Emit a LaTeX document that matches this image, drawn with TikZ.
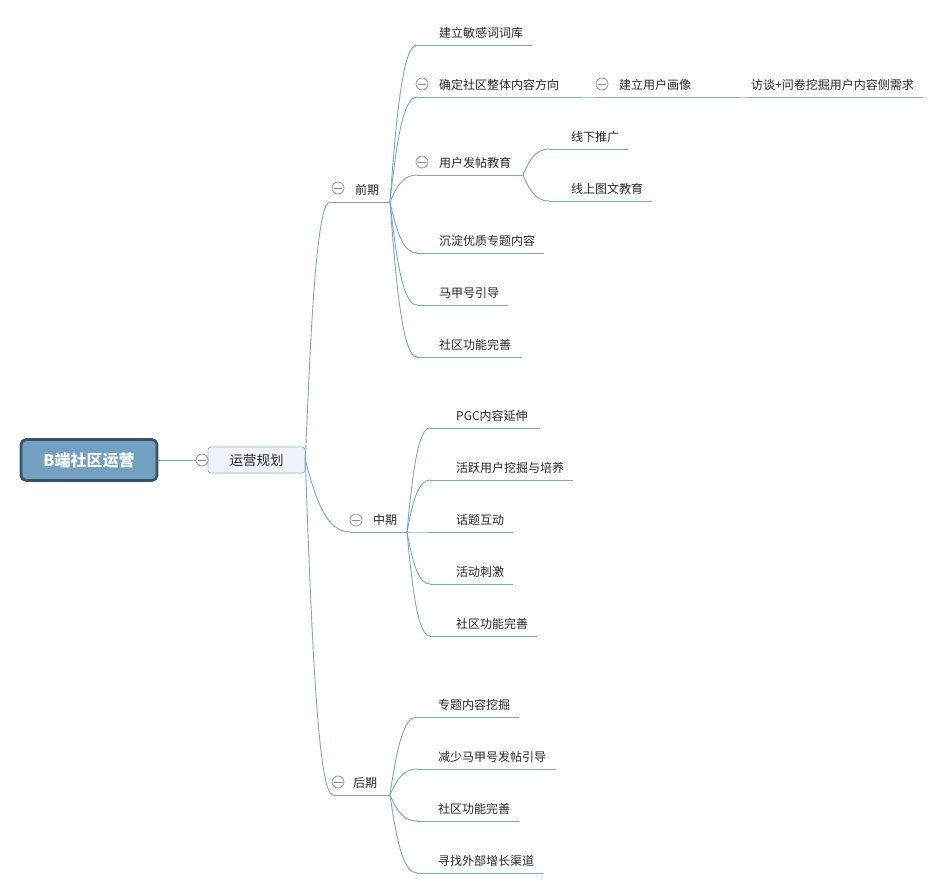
\documentclass[tikz,border=0pt]{standalone}
\usepackage{fontspec}
\newfontfamily\cjk{Noto Sans CJK SC}
\usetikzlibrary{calc}
\definecolor{lineblue}{HTML}{7BA7C9}
\definecolor{rootfill}{HTML}{71A0C1}
\definecolor{rootborder}{HTML}{3B5366}
\definecolor{subfill}{HTML}{EEF4F9}
\definecolor{subborder}{HTML}{8DB3D1}
\definecolor{btngray}{HTML}{8C8C8C}
\newcommand\mmtopic[6]{%
  \coordinate (#1-s) at (#2,#3);
  \coordinate (#1-e) at (#4,#3);
  \node[lbl] (#1) at (#5,#3-7.5) {#6};
  \draw[br] (#1-s) -- (#1-e);}
\newcommand\mmconn[2]{%
  \draw[br] let \p1=(#1), \p2=(#2) in (\p1) .. controls ({\x1+0.25*(\x2-\x1)},{\y1+0.6*(\y2-\y1)}) and ({\x1+0.5*(\x2-\x1)},{\y2}) .. (\p2);}
\begin{document}
\begin{tikzpicture}[x=1pt,y=-1pt,
  br/.style={draw=lineblue, line width=0.9pt},
  lbl/.style={anchor=base west, inner sep=0pt, font=\cjk\fontsize{12}{12}\selectfont, text=black!85},
  btn/.style={circle, draw=btngray, fill=white, minimum size=12pt, inner sep=0pt, line width=0.7pt,
    path picture={\draw[btngray, line width=0.7pt] ([xshift=-3.6pt]path picture bounding box.center) -- ([xshift=3.6pt]path picture bounding box.center);}},
  rootbox/.style={draw=rootborder, fill=rootfill, line width=2.6pt, rounded corners=5pt, minimum width=136pt, minimum height=41pt, text=white, font=\cjk\bfseries\fontsize{16}{16}\selectfont},
  subbox/.style={draw=subborder, fill=subfill, line width=0.7pt, rounded corners=3pt, minimum width=97pt, minimum height=26pt, text=black!85, font=\cjk\fontsize{13.5}{13.5}\selectfont}]
\useasboundingbox[fill=white] (0,0) rectangle (944,894);

% root and main
\node[rootbox] (root) at (89,460) {B端社区运营};
\node[subbox] (plan) at (256.5,460) {运营规划};
\node[btn] (planbtn) at (202,460) {};
\draw[br] (root.east) -- (planbtn.west);

% level 1
\mmtopic{p1}{330}{202}{390}{355}{前期}
\mmtopic{p2}{350}{532}{407}{373}{中期}
\mmtopic{p3}{333}{795}{390}{353}{后期}
\mmconn{plan.east}{p1-s}
\mmconn{plan.east}{p2-s}
\mmconn{plan.east}{p3-s}
\node[btn] (p1btn) at (338,188) {};
\node[btn] (p2btn) at (356,520) {};
\node[btn] (p3btn) at (338,782) {};

% 前期 children
\mmtopic{a1}{417}{45}{532}{439}{建立敏感词词库}
\mmtopic{a2}{417}{97}{580}{439}{确定社区整体内容方向}
\mmtopic{a3}{417}{175}{523}{439}{用户发帖教育}
\mmtopic{a4}{417}{253}{544}{439}{沉淀优质专题内容}
\mmtopic{a5}{417}{305}{508}{439}{马甲号引导}
\mmtopic{a6}{417}{357}{522}{439}{社区功能完善}
\foreach \t in {a1,a2,a3,a4,a5,a6}{\mmconn{p1-e}{\t-s}}
\node[btn] (a2btn) at (422,84) {};
\node[btn] (a3btn) at (422,162) {};

% 确定社区整体内容方向 chain
\mmtopic{b1}{597}{97}{738}{619}{建立用户画像}
\mmconn{a2-e}{b1-s}
\node[btn] (b1btn) at (602,84) {};
\mmtopic{b2}{750}{97}{923}{751}{访谈+问卷挖掘用户内容侧需求}
\mmconn{b1-e}{b2-s}

% 用户发帖教育 children
\mmtopic{c1}{549}{149}{628}{571}{线下推广}
\mmtopic{c2}{549}{201}{652}{571}{线上图文教育}
\mmconn{a3-e}{c1-s}
\mmconn{a3-e}{c2-s}

% 中期 children
\mmtopic{m1}{430}{428}{540}{456}{PGC内容延伸}
\mmtopic{m2}{430}{480}{573}{456}{活跃用户挖掘与培养}
\mmtopic{m3}{430}{532}{513}{456}{话题互动}
\mmtopic{m4}{430}{584}{513}{456}{活动刺激}
\mmtopic{m5}{430}{636}{537}{456}{社区功能完善}
\foreach \t in {m1,m2,m3,m4,m5}{\mmconn{p2-e}{\t-s}}

% 后期 children
\mmtopic{l1}{417}{717}{519}{438}{专题内容挖掘}
\mmtopic{l2}{417}{769}{556}{438}{减少马甲号发帖引导}
\mmtopic{l3}{417}{821}{519}{438}{社区功能完善}
\mmtopic{l4}{417}{873}{543}{438}{寻找外部增长渠道}
\foreach \t in {l1,l2,l3,l4}{\mmconn{p3-e}{\t-s}}
\end{tikzpicture}
\end{document}
